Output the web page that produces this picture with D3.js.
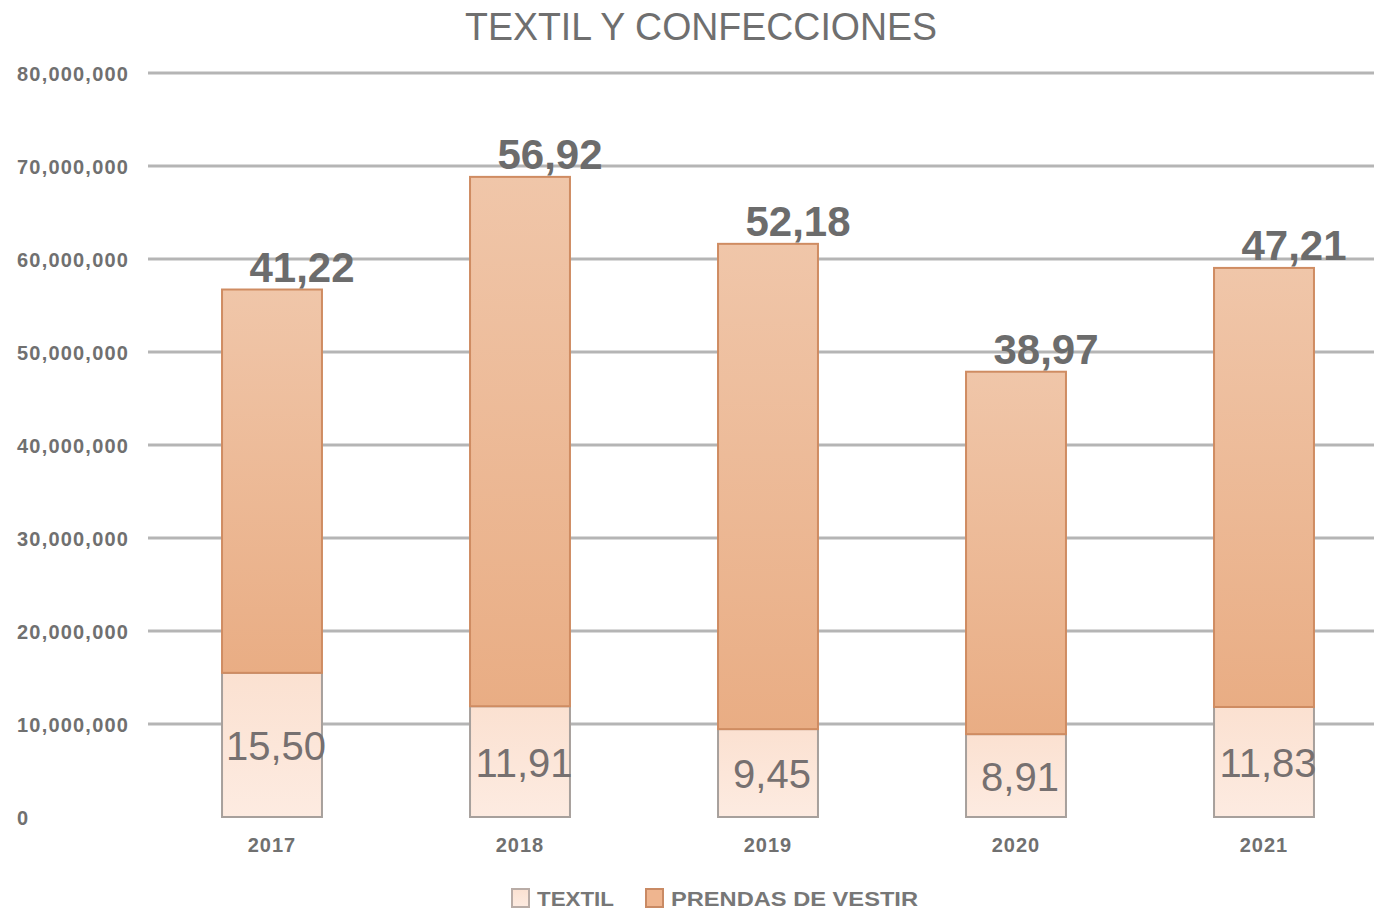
<!DOCTYPE html>
<html>
<head>
<meta charset="utf-8">
<script src="https://cdn.jsdelivr.net/npm/d3@7"></script>
<style>
  body { margin: 0; background: #fff; }
  text { font-family: 'Liberation Sans', Arial, sans-serif; }
</style>
</head>
<body>
<svg id="chart" width="1374" height="912"></svg>
<script>
// data (millones)
const years = ['2017', '2018', '2019', '2020', '2021'];
const textil = [15.50, 11.91, 9.45, 8.91, 11.83];
const prendas = [41.22, 56.92, 52.18, 38.97, 47.21];
const yTicks = [0, 10e6, 20e6, 30e6, 40e6, 50e6, 60e6, 70e6, 80e6];
const seriesNames = ['TEXTIL', 'PRENDAS DE VESTIR'];

const svg = d3.select('#chart');

const x = d3.scaleBand()
  .domain(years)
  .range([148, 1388])
  .paddingInner(0.597)
  .paddingOuter(0.2985);

const y = d3.scaleLinear()
  .domain([0, 80e6])
  .range([817, 73]);

// number format with comma decimal
const fmt = v => d3.format('.2f')(v).replace('.', ',');

// gradients
const defs = svg.append('defs');
const g1 = defs.append('linearGradient').attr('id', 'gTextil')
  .attr('x1', 0).attr('y1', 0).attr('x2', 0).attr('y2', 1);
g1.append('stop').attr('offset', '0%').attr('stop-color', '#fbe1d1');
g1.append('stop').attr('offset', '100%').attr('stop-color', '#fdebe1');
const g2 = defs.append('linearGradient').attr('id', 'gPrendas')
  .attr('x1', 0).attr('y1', 0).attr('x2', 0).attr('y2', 1);
g2.append('stop').attr('offset', '0%').attr('stop-color', '#f0c6a9');
g2.append('stop').attr('offset', '100%').attr('stop-color', '#e9ad84');

// title
svg.append('text')
  .attr('x', 701)
  .attr('y', 40)
  .attr('text-anchor', 'middle')
  .attr('font-size', 39)
  .attr('fill', '#6f6f6f')
  .attr('textLength', 472)
  .attr('lengthAdjust', 'spacingAndGlyphs')
  .text('TEXTIL Y CONFECCIONES');

// grid + y axis
const yAxis = d3.axisLeft(y)
  .tickValues(yTicks)
  .tickSize(0)
  .tickFormat(d3.format(','));

const gy = svg.append('g')
  .attr('transform', 'translate(17,0)')
  .call(yAxis);
gy.select('.domain').remove();
gy.selectAll('text')
  .attr('text-anchor', 'start')
  .attr('x', 0)
  .attr('dy', '0.36em')
  .attr('font-size', 20)
  .attr('font-weight', 'bold')
  .attr('letter-spacing', 1.2)
  .attr('fill', '#707070');

svg.append('g')
  .selectAll('line')
  .data(yTicks.filter(d => d > 0))
  .join('line')
  .attr('x1', 148)
  .attr('x2', 1374)
  .attr('y1', d => y(d))
  .attr('y2', d => y(d))
  .attr('stroke', '#b5b5b5')
  .attr('stroke-width', 3);

// bars
const bars = svg.append('g');
years.forEach((yr, i) => {
  const t = textil[i] * 1e6;
  const p = prendas[i] * 1e6;
  bars.append('rect')
    .attr('x', x(yr))
    .attr('y', y(t))
    .attr('width', x.bandwidth())
    .attr('height', y(0) - y(t))
    .attr('fill', 'url(#gTextil)')
    .attr('stroke', '#a7a09c')
    .attr('stroke-width', 2);
  bars.append('rect')
    .attr('x', x(yr))
    .attr('y', y(t + p))
    .attr('width', x.bandwidth())
    .attr('height', y(t) - y(t + p))
    .attr('fill', 'url(#gPrendas)')
    .attr('stroke', '#cf8c62')
    .attr('stroke-width', 2);

  // labels
  bars.append('text')
    .attr('x', x(yr) + x.bandwidth() / 2 + 30)
    .attr('y', y(t + p) - 8)
    .attr('text-anchor', 'middle')
    .attr('font-size', 42)
    .attr('font-weight', 'bold')
    .attr('fill', '#6c6c6c')
    .text(fmt(prendas[i]));
  bars.append('text')
    .attr('x', x(yr) + x.bandwidth() / 2 + 4)
    .attr('y', (y(0) + y(t)) / 2 + 15)
    .attr('text-anchor', 'middle')
    .attr('font-size', 40)
    .attr('fill', '#767070')
    .text(fmt(textil[i]));
});

// x axis
const xAxis = d3.axisBottom(x).tickSize(0);
const gx = svg.append('g')
  .attr('transform', 'translate(0,852)')
  .call(xAxis);
gx.select('.domain').remove();
gx.selectAll('text')
  .attr('y', 0)
  .attr('dy', 0)
  .attr('font-size', 20)
  .attr('font-weight', 'bold')
  .attr('letter-spacing', 1)
  .attr('fill', '#707070');

// legend
const legend = svg.append('g');
const legendX = [512, 646];
const legendW = [77, 247];
const legendFill = ['url(#gTextil)', '#efb58f'];
const legendStroke = ['#b9aca6', '#c98a64'];
seriesNames.forEach((name, i) => {
  legend.append('rect')
    .attr('x', legendX[i])
    .attr('y', 889)
    .attr('width', 17)
    .attr('height', 18)
    .attr('fill', legendFill[i])
    .attr('stroke', legendStroke[i])
    .attr('stroke-width', 2);
  legend.append('text')
    .attr('x', legendX[i] + 25)
    .attr('y', 906)
    .attr('font-size', 21)
    .attr('font-weight', 'bold')
    .attr('fill', '#777')
    .attr('textLength', legendW[i])
    .attr('lengthAdjust', 'spacingAndGlyphs')
    .text(name);
});
</script>
</body>
</html>
